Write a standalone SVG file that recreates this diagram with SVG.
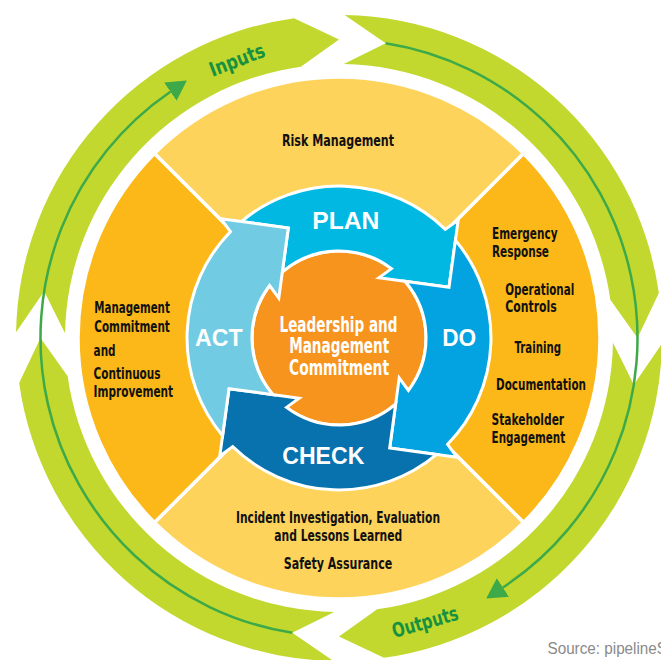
<svg xmlns="http://www.w3.org/2000/svg" width="661" height="660" viewBox="0 0 661 660">
  <defs>
    <style>
      .band{fill:#C2D82F}
      .flow{fill:none;stroke:#3DA949;stroke-width:2.5}
      .flowlbl{font-family:'Liberation Sans Narrow','DejaVu Sans Condensed','Liberation Sans',Arial,sans-serif;font-weight:bold;font-size:20px;fill:#17913F;text-anchor:middle}
      .quad{stroke:#fff;stroke-width:3.5;stroke-linejoin:round}
      .q-light{fill:#FED35C}
      .q-dark{fill:#FBB818}
      .lbl{font-family:'Liberation Sans Narrow','DejaVu Sans Condensed','Liberation Sans',Arial,sans-serif;font-weight:bold;font-size:15px;fill:#111}
      .mid{text-anchor:middle}
      .cyc{stroke:#fff;stroke-width:3;stroke-linejoin:miter;stroke-miterlimit:10}
      .cyclbl{font-family:'Liberation Sans',Arial,sans-serif;font-weight:bold;font-size:24px;fill:#fff;text-anchor:middle}
      .corelbl{font-family:'Liberation Sans Narrow','DejaVu Sans Condensed','Liberation Sans',Arial,sans-serif;font-weight:bold;font-size:20.5px;fill:#fff;text-anchor:middle}
      .src{font-family:'Liberation Sans',Arial,sans-serif;font-size:16px;fill:#8a8a8a}
    </style>
    <!-- one quarter of the outer green ring: chevron tail at 0deg, pointed head at 90deg -->
    <path id="ring-seg" d="M344.64,15.05 A323,323 0 0 1 658.86,293.05 L637.5,338 L610.33,299.87 A274,274 0 0 0 343.78,64.04 L385.70,43.18 Z"/>
    <!-- one curved cycle arrow (right quarter); tail notched to fit the previous arrowhead -->
    <path id="cycle-arrow" d="M455.43,240.28 A152,152 0 0 1 447.6,444.3 L457,457.2 L389.7,448 L399.2,377.9 L408.4,390.5 A87,87 0 0 0 405.03,281.34 L449,287.3 Z"/>
    <marker id="flow-head" markerUnits="userSpaceOnUse" markerWidth="20" markerHeight="22" refX="0" refY="11" orient="auto" viewBox="0 0 20 22">
      <path d="M0,0 L20,11 L0,22 Z" fill="#3DA949"/>
    </marker>
  </defs>

  <rect width="661" height="660" fill="#fff"/>

  <!-- outer green ring -->
  <g id="inputs-arrow">
    <use href="#ring-seg" class="band" transform="rotate(270 339 338)"/>
    <text class="flowlbl" transform="translate(237 60) rotate(-21)" y="7" textLength="58" lengthAdjust="spacingAndGlyphs">Inputs</text>
  </g>
  <g id="top-right-arrow">
    <use href="#ring-seg" class="band"/>
  </g>
  <g id="outputs-arrow">
    <use href="#ring-seg" class="band" transform="rotate(90 339 338)"/>
    <text class="flowlbl" transform="translate(425 622) rotate(-16)" y="7" textLength="68" lengthAdjust="spacingAndGlyphs">Outputs</text>
  </g>
  <g id="bottom-left-arrow">
    <use href="#ring-seg" class="band" transform="rotate(180 339 338)"/>
  </g>

  <!-- thin flow lines riding on the green ring -->
  <g id="connectors">
    <path class="flow" d="M292.30,632.83 A298.5,298.5 0 0 1 170.36,91.70" marker-end="url(#flow-head)"/>
    <path class="flow" d="M385.70,43.17 A298.5,298.5 0 0 1 502.88,587.49" marker-end="url(#flow-head)"/>
  </g>

  <!-- four element quadrants -->
  <g id="risk-management">
    <path class="quad q-light" d="M339,338 L154.44,153.44 A261,261 0 0 1 523.56,153.44 Z"/>
    <text class="lbl mid" x="338" y="146" textLength="112" lengthAdjust="spacingAndGlyphs">Risk Management</text>
  </g>
  <g id="do-elements">
    <path class="quad q-dark" d="M339,338 L523.56,153.44 A261,261 0 0 1 523.56,522.56 Z"/>
    <text class="lbl" x="492" y="239.3" textLength="65.5" lengthAdjust="spacingAndGlyphs">Emergency</text>
    <text class="lbl" x="492" y="257.3" textLength="57" lengthAdjust="spacingAndGlyphs">Response</text>
    <text class="lbl" x="505.3" y="294.5" textLength="69" lengthAdjust="spacingAndGlyphs">Operational</text>
    <text class="lbl" x="505.3" y="312" textLength="51.5" lengthAdjust="spacingAndGlyphs">Controls</text>
    <text class="lbl" x="514.5" y="353.3" textLength="46.5" lengthAdjust="spacingAndGlyphs">Training</text>
    <text class="lbl" x="496" y="390" textLength="90" lengthAdjust="spacingAndGlyphs">Documentation</text>
    <text class="lbl" x="491.6" y="425" textLength="72.5" lengthAdjust="spacingAndGlyphs">Stakeholder</text>
    <text class="lbl" x="491.6" y="443.3" textLength="73.5" lengthAdjust="spacingAndGlyphs">Engagement</text>
  </g>
  <g id="check-elements">
    <path class="quad q-light" d="M339,338 L523.56,522.56 A261,261 0 0 1 154.44,522.56 Z"/>
    <text class="lbl mid" x="338" y="523.3" textLength="204" lengthAdjust="spacingAndGlyphs">Incident Investigation, Evaluation</text>
    <text class="lbl mid" x="338.3" y="540.8" textLength="128" lengthAdjust="spacingAndGlyphs">and Lessons Learned</text>
    <text class="lbl mid" x="338" y="569.3" textLength="108.5" lengthAdjust="spacingAndGlyphs">Safety Assurance</text>
  </g>
  <g id="act-elements">
    <path class="quad q-dark" d="M339,338 L154.44,522.56 A261,261 0 0 1 154.44,153.44 Z"/>
    <text class="lbl" x="94.3" y="313.3" textLength="75.5" lengthAdjust="spacingAndGlyphs">Management</text>
    <text class="lbl" x="94.3" y="331.5" textLength="75.5" lengthAdjust="spacingAndGlyphs">Commitment</text>
    <text class="lbl" x="93.6" y="356" textLength="22" lengthAdjust="spacingAndGlyphs">and</text>
    <text class="lbl" x="93.6" y="379.2" textLength="67" lengthAdjust="spacingAndGlyphs">Continuous</text>
    <text class="lbl" x="93.6" y="396.7" textLength="79.5" lengthAdjust="spacingAndGlyphs">Improvement</text>
  </g>

  <!-- centre -->
  <g id="leadership">
    <circle cx="339" cy="338" r="87" fill="#F7941E" stroke="#fff" stroke-width="3"/>
    <text class="corelbl" x="338.5" y="331.7" textLength="118" lengthAdjust="spacingAndGlyphs">Leadership and</text>
    <text class="corelbl" x="339.2" y="353.3" textLength="100" lengthAdjust="spacingAndGlyphs">Management</text>
    <text class="corelbl" x="339" y="375" textLength="100" lengthAdjust="spacingAndGlyphs">Commitment</text>
  </g>

  <!-- plan-do-check-act cycle -->
  <g id="plan">
    <use href="#cycle-arrow" class="cyc" fill="#00B8E2" transform="rotate(-90 339 338)"/>
    <text class="cyclbl" x="345.8" y="229.3" textLength="67" lengthAdjust="spacingAndGlyphs">PLAN</text>
  </g>
  <g id="do">
    <use href="#cycle-arrow" class="cyc" fill="#02A3E0"/>
    <text class="cyclbl" x="459.2" y="346" textLength="34" lengthAdjust="spacingAndGlyphs">DO</text>
  </g>
  <g id="check">
    <use href="#cycle-arrow" class="cyc" fill="#0872AE" transform="rotate(90 339 338)"/>
    <text class="cyclbl" x="323.3" y="464.3" textLength="82" lengthAdjust="spacingAndGlyphs">CHECK</text>
  </g>
  <g id="act">
    <use href="#cycle-arrow" class="cyc" fill="#71CCE3" transform="rotate(180 339 338)"/>
    <text class="cyclbl" x="218.8" y="346" textLength="47.5" lengthAdjust="spacingAndGlyphs">ACT</text>
  </g>

  <text class="src" x="547.5" y="654" textLength="119.5" lengthAdjust="spacingAndGlyphs">Source: pipelineS</text>
</svg>
